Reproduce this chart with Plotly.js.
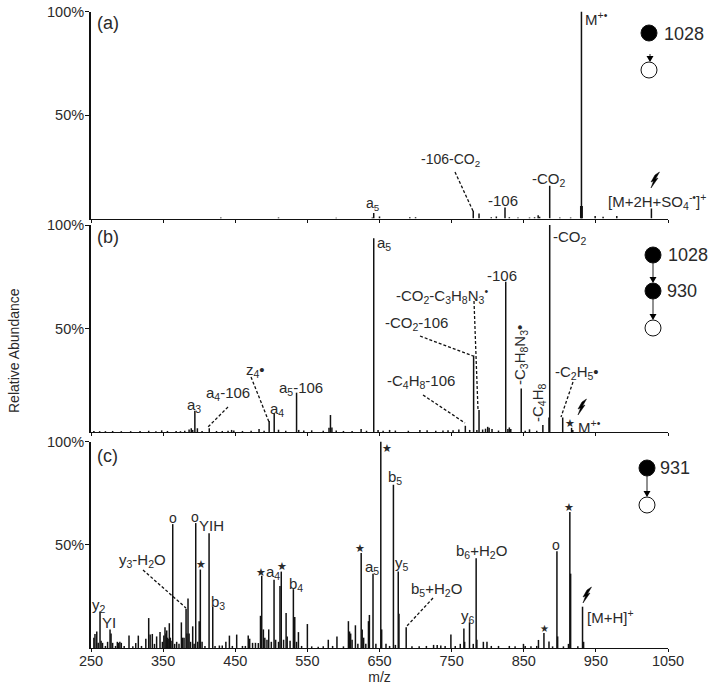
<!DOCTYPE html>
<html>
<head>
<meta charset="utf-8">
<script src="https://cdn.plot.ly/plotly-3.0.1.min.js"></script>
<style>html,body{margin:0;padding:0;background:#fff}#chart{width:714px;height:689px}</style>
</head>
<body>
<div id="chart"></div>
<script>
// ---------- Data: m/z and relative abundance (%) ----------
const mzA = [642,650,430,510,590,640,692,700,780,788,805,812,824,830,842,858,865,870,872,886,900,915,929,930,931,949,960,979,1027];
const pctA = [2.6,1.0,0.5,0.5,0.4,0.5,0.6,0.6,3.7,2.4,0.6,1,5.3,0.6,0.5,0.5,0.6,1.6,0.8,15.8,0.5,0.5,6,100,6,1.2,0.9,1.2,4.8];

const mzB = [254,262,270,280,292,305,318,330,340,348,356,368,374,380,386,389,391,394,397.5,404,414,424,432,440,445,448,460,472,483,490,497,504,510,520,535,538,545,556,572,580,582,584,590,600,612,624.5,632,642,648,655,664,672,690,706,716,728,738,745,752,760,769,775,780.5,785,788,793,797,800,802,806,815,825,828,830,832,846.5,852,858,868,876.5,885,886,904,916.3,918];
const pctB = [0.5,0.4,0.4,0.5,0.4,0.4,0.5,0.6,0.4,0.8,0.5,0.5,0.4,0.6,1.2,1.8,1,10.3,1.8,0.5,1.8,0.5,0.5,0.6,1,0.7,0.5,0.6,1.5,0.6,5.3,9,1.1,0.6,19,1,0.7,0.8,0.6,2,8.2,2.2,0.7,0.5,0.5,1.5,0.6,93.6,1,0.6,1,0.7,0.6,1,0.8,0.6,0.7,0.8,0.9,1.2,3,1,37,1,10.6,1.2,1.6,2.5,2,1.5,0.7,72.6,1.4,2.2,1.5,21,0.6,1.3,0.6,3.4,7,100,7,2,1];

const mzC = [254,255.5,258,260,262.5,264,266,270,273,276.4,277.8,280,284,286.5,288,290,292,296,302.7,308,312,315.6,320,326,330,332,335,338,341,345.7,349,351,352.6,354,355,356,357,358.6,360,361,363.3,366,368.8,372,375.3,377,379,381.8,383,384.5,386,388,391,393,395.2,398,400,401.6,404,408,413.7,418.8,422,428,432,437,441.9,446,452,460,464,468,470,474,478,482,485,486.7,489,491,494,496.4,500,503.8,506,510,512,513.8,517,520.5,522,526,530.6,532.5,535,537.6,542,550,556,565,572,579,585,591,600,606.9,608.5,610,612,616.6,620,624.6,626,628,631,634.7,636,641,645,651.8,653,659,664,669.3,672,676,677,687,695,705,715,725,730,735,741,749,755,762,767,768,774.8,780,784,785,794,799,805,815,830,838,849.6,852,860,868,870.4,878,885,890,896,897,905,912,913.9,915,925,931.5,933];
const pctC = [5,6.8,8,2.5,17.7,3.5,2.5,1,3,8.9,7,2.5,1,3,2.5,3,2.5,1,6,0.8,2.4,6,1,4.5,14.5,6.5,6.8,2,5.6,7.7,3,6,10,7,8.5,5,4.5,12,5,3.5,60,2,3,2,12.4,5,5,19,7,24,7,3,10.5,2,60.5,3,13,38,3,1,55.6,19.8,1,1.2,1.2,3,6,1,6.5,1,1,6,4.5,2.5,2.5,2.4,15.6,35,9,5,4,9,3,33,4,3,30,37,4,17,5.6,3.5,28.5,15,3,7.7,1,11.6,0.8,0.6,0.8,4,1,5.6,0.8,13,8,7,4,11,2,46,9,5,2,13,16,36,2,100,9,2,1,79,1.5,37,16.6,10,0.8,0.8,1,1.5,1.5,1.2,1,6.5,1,2,9.4,3,12.4,2,43.5,4,3,3,1,1,1,0.8,2,1,0.8,1,3.9,7.3,3.2,0.8,46.8,5.6,0.8,2,65.8,36,0.8,20,3];

const xTicks = [250,350,450,550,650,750,850,950,1050];
const yTicks = [50,100];
const yTickText = ['50%','100%'];

// ---------- Text labels ----------
const labelsA = [
  ['(a)',95,23,'left',18],
  ['a<sub>5</sub>',373,204,'center'],
  ['-106-CO<sub>2</sub>',450,160,'center'],
  ['-106',503,201,'center',15],
  ['-CO<sub>2</sub>',549,179,'center',15],
  ['M<sup>+•</sup>',583,18,'left',15],
  ['[M+2H+SO<sub>4</sub><sup>-•</sup>]<sup>+</sup>',657,202,'center',15],
  ['1028',662,34,'left',18]
];
const labelsB = [
  ['(b)',95,237,'left',18],
  ['a<sub>5</sub>',375,243,'left',15],
  ['-CO<sub>2</sub>',570,237,'center',15],
  ['-106',502,275,'center',15],
  ['-CO<sub>2</sub>-C<sub>3</sub>H<sub>8</sub>N<sub>3</sub><sup>•</sup>',442,295,'center',15],
  ['-CO<sub>2</sub>-106',416,323,'center',15],
  ['-C<sub>4</sub>H<sub>8</sub>-106',421,381,'center',15],
  ['-C<sub>2</sub>H<sub>5</sub>•',577,372,'center',15],
  ['★',570,423,'center',11],
  ['M<sup>+•</sup>',576,426,'left',15],
  ['a<sub>3</sub>',194,405,'center',15],
  ['a<sub>4</sub>-106',228,393,'center',15],
  ['z<sub>4</sub>•',255,370,'center',15],
  ['a<sub>4</sub>',277,409,'center',15],
  ['a<sub>5</sub>-106',301,388,'center',15],
  ['1028',666,255,'left',18],
  ['930',665,291,'left',18]
];
const rotatedB = [
  ['-C<sub>3</sub>H<sub>8</sub>N<sub>3</sub>•',520,355],
  ['-C<sub>4</sub>H<sub>8</sub>',538,403]
];
const labelsC = [
  ['(c)',95,456,'left',18],
  ['o',173,518,'center'],['o',195,517,'center'],['o',556,545,'center'],
  ['YIH',211,525,'center',15],
  ['★',201,564,'center',11],['★',261,572,'center',11],['★',282,566,'center',11],
  ['★',360,548,'center',11],['★',387,448,'center',11],['★',544,628,'center',10],['★',569,507,'center',11],
  ['y<sub>3</sub>-H<sub>2</sub>O',142,560,'center',15],
  ['b<sub>3</sub>',218,602,'center',15],
  ['y<sub>2</sub>',99,605,'center',15],
  ['YI',109,622,'center',15],
  ['a<sub>4</sub>',273,572,'center',15],
  ['b<sub>4</sub>',296,584,'center',15],
  ['a<sub>5</sub>',372,567,'center',15],
  ['b<sub>5</sub>',395,477,'center',15],
  ['y<sub>5</sub>',402,563,'center',15],
  ['b<sub>5</sub>+H<sub>2</sub>O',436,589,'center',15],
  ['b<sub>6</sub>+H<sub>2</sub>O',481,551,'center',15],
  ['y<sub>6</sub>',468,616,'center',15],
  ['[M+H]<sup>+</sup>',585,616,'left',15],
  ['931',658,468,'left',18]
];
const leaders = [
  [455,172,473,211],[474,301,478,410],[420,336,473,356],[423,395,465,423],
  [573,382,561,417],[228,407,208,427],[251,377,269,422],[143,570,186,608],[433,598,406,627]
];
const filledCircles = [[649,33],[653,255],[653,291],[647,468]];
const openCircles = [[649,70],[653,328],[647,505]];
const arrows = [[650,54,650,61],[653,263,653,282],[653,299,653,319],[647,476,647,496]];
const bolts = [[655,180],[582,407],[587,595]];

// ---------- Layout helpers ----------
const W = 714, H = 689;
const FONT = '"Liberation Sans", Arial, sans-serif';
const INK = '#2a2a2a';
const px = x => x / W;
const py = y => 1 - y / H;

function spikes(mz, pct, xa, ya) {
  const x = [], y = [];
  mz.forEach((m, i) => { x.push(m, m, null); y.push(0, pct[i], null); });
  return {type:'scatter', mode:'lines', x, y, xaxis:xa, yaxis:ya, hoverinfo:'skip',
          line:{color:'#111', width:1.5}, showlegend:false};
}
function xAxis(anchor, labels) {
  return {domain:[px(91),px(668)], range:[250,1050], anchor, tickmode:'array', tickvals:xTicks,
          ticks:'outside', ticklen:3, tickwidth:1, tickcolor:'#111', showgrid:false, zeroline:false,
          showline:true, linecolor:'#111', linewidth:1, showticklabels:labels, ticklabelstandoff:-3,
          tickfont:{family:FONT,size:14.5,color:INK}};
}
function yAxis(top, base, anchor) {
  return {domain:[py(base),py(top)], range:[0,100], anchor, tickmode:'array', tickvals:yTicks, ticktext:yTickText,
          ticks:'outside', ticklen:4, tickwidth:1, tickcolor:'#111', showgrid:false, zeroline:false,
          showline:true, linecolor:'#111', linewidth:2, ticklabelstandoff:-2,
          tickfont:{family:FONT,size:14.5,color:INK}};
}
const annotations = [];
function note(t, x, y, anchor, size, angle) {
  annotations.push({text:t, xref:'paper', yref:'paper', x:px(x), y:py(y), xanchor:anchor||'center', yanchor:'middle',
    showarrow:false, textangle:angle||0, font:{family:FONT,size:size||14,color:INK}});
}
labelsA.concat(labelsB, labelsC).forEach(l => note(l[0], l[1], l[2], l[3], l[4]));
rotatedB.forEach(l => note(l[0], l[1], l[2], 'center', 15, -90));
note('Relative Abundance', 14, 351, 'center', 14, -90);

const shapes = [];
leaders.forEach(l => shapes.push({type:'line', xref:'paper', yref:'paper', x0:px(l[0]), y0:py(l[1]), x1:px(l[2]), y1:py(l[3]),
  line:{color:'#111', width:1.3, dash:'3px,2px'}}));
function circle(c, fill) {
  shapes.push({type:'circle', xref:'paper', yref:'paper', x0:px(c[0]-8), x1:px(c[0]+8), y0:py(c[1]+8), y1:py(c[1]-8),
    fillcolor:fill, line:{color:'#111', width:1}});
}
filledCircles.forEach(c => circle(c, '#000'));
openCircles.forEach(c => circle(c, '#fff'));
function poly(pts) {
  return 'M' + pts.map(p => px(p[0]) + ',' + py(p[1])).join('L') + 'Z';
}
arrows.forEach(a => {
  shapes.push({type:'line', xref:'paper', yref:'paper', x0:px(a[0]), y0:py(a[1]), x1:px(a[2]), y1:py(a[3]), line:{color:'#222', width:1}});
  shapes.push({type:'path', xref:'paper', yref:'paper', path:poly([[a[2]-3.5,a[3]-5],[a[2]+3.5,a[3]-5],[a[2],a[3]+1]]), fillcolor:'#000', line:{width:0}});
});
bolts.forEach(b => {
  const [x,y] = b;
  shapes.push({type:'path', xref:'paper', yref:'paper',
    path:poly([[x+4.5,y-8],[x+0.5,y-1],[x+3,y-2],[x-4,y+8],[x-1.5,y+1],[x-4,y+2],[x,y-5]]),
    fillcolor:'#000', line:{color:'#000',width:0.5}});
});

const xa3 = xAxis('y3', true);
xa3.title = {text:'m/z', font:{family:FONT,size:14,color:INK}, standoff:0};

const layout = {
  width:W, height:H, margin:{l:0,r:0,t:0,b:0}, autosize:false,
  paper_bgcolor:'#fff', plot_bgcolor:'rgba(0,0,0,0)', showlegend:false, font:{family:FONT,color:INK},
  xaxis:xAxis('y',false), yaxis:yAxis(11.5,218.5,'x'),
  xaxis2:xAxis('y2',false), yaxis2:yAxis(225,432,'x2'),
  xaxis3:xa3, yaxis3:yAxis(441.5,648,'x3'),
  annotations, shapes
};
Plotly.newPlot('chart', [spikes(mzA,pctA,'x','y'), spikes(mzB,pctB,'x2','y2'), spikes(mzC,pctC,'x3','y3')], layout, {displayModeBar:false, staticPlot:true});
</script>
</body>
</html>
